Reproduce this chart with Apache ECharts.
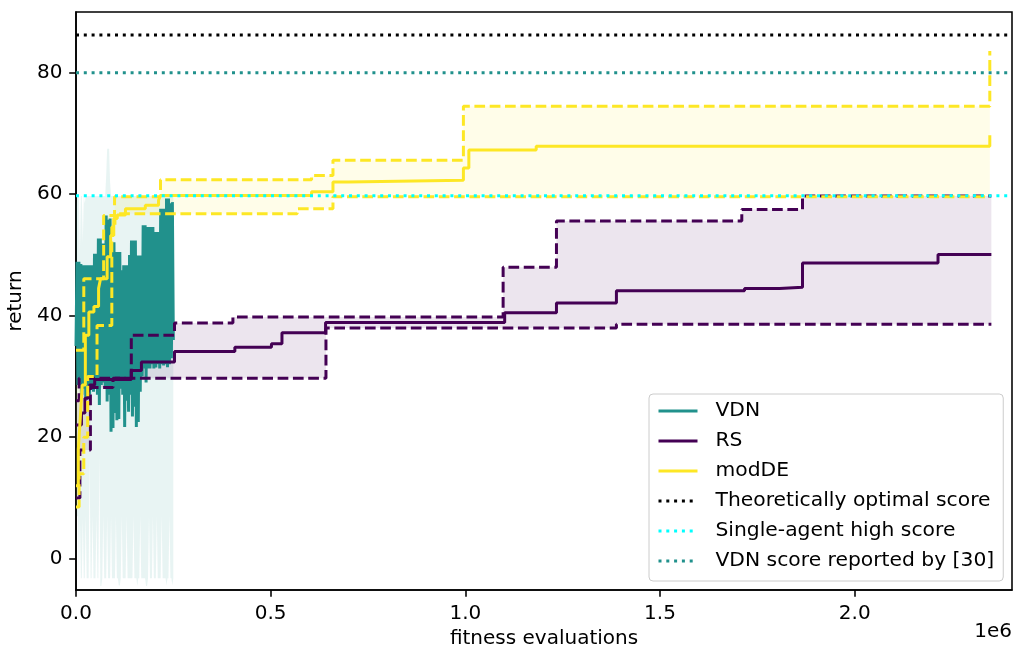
<!DOCTYPE html>
<html><head><meta charset="utf-8">
<script src="https://cdn.jsdelivr.net/npm/echarts@6/dist/echarts.min.js"></script>
<style>html,body{margin:0;padding:0;background:#fff}#c{width:1014px;height:649px}</style>
</head><body><div id="c"></div>
<script>
// ---------------- data ----------------
const xTicks = [0, 500000, 1000000, 1500000, 2000000];
const yTicks = [0, 20, 40, 60, 80];

// VDN: sampled every 2500 evaluations from 0 to 250000
const vdnStep = 2500;
const vdnMean = [
  35, 48.9, 28.6, 48.9, 29, 48.5, 27, 48.3, 28, 48.3,
  26.5, 48.3, 28, 48.3, 27, 48.3, 28.5, 48.3, 27.5, 50.2,
  28, 50.2, 27, 52.7, 25.3, 52.7, 28.6, 51.9, 29, 51.9,
  28, 56.5, 25.9, 55.8, 27, 56, 20.9, 52.1, 21.5, 52.1,
  24, 50.5, 22.8, 50.5, 23, 50.5, 28, 47.5, 27, 48.3,
  21.7, 48.3, 26, 48.3, 24.2, 50, 27, 52.4, 23.4, 52.4,
  25, 52.4, 21.7, 49.9, 22.5, 49.9, 27.5, 49.9, 30, 54.9,
  31.3, 54.9, 29, 54.6, 31.3, 54.6, 31.3, 54.6, 32, 54.6,
  31.3, 53.8, 31.5, 53.8, 32, 53.8, 31.3, 57.6, 32, 57.6,
  31.8, 57.6, 32, 59.3, 31.5, 59.3, 32, 58.5, 33, 58.7,
  36
];
const vdnUpper = [
  58, 59.5, 59.7, 59.7, 50, 59.7, 59.7, 52, 59.7, 58.5,
  59.7, 59.7, 59.7, 59.7, 59.7, 59.7, 59.7, 59.7, 59.7, 59.7,
  59.7, 59.7, 59.7, 59.7, 59.7, 59.7, 59.7, 59.7, 59.7, 59.7,
  59.7, 63, 67.5, 67.5, 67.5, 62, 59.7, 59.7, 59.7, 59.7,
  59.7, 59.7, 59.7, 59.7, 59.7, 59.7, 59.7, 59.7, 59.7, 59.7,
  59.7, 59.7, 59.7, 59.7, 59.7, 59.7, 59.7, 59.7, 59.7, 59.7,
  59.7, 59.7, 59.7, 59.7, 59.7, 59.7, 59.7, 59.7, 59.7, 59.7,
  59.7, 59.7, 59.7, 59.7, 59.7, 59.7, 59.7, 59.7, 59.7, 59.7,
  59.7, 59.7, 59.7, 59.7, 59.7, 59.7, 59.7, 59.7, 59.7, 59.7,
  59.7, 59.7, 59.7, 59.7, 59.7, 59.7, 59.7, 59.7, 59.7, 59.7,
  59.7
];
const vdnLower = [
  10, 7, 7, -3.2, 7, -3.2, -3.2, 6.5, -3.2, -3.2,
  7, -3.2, -3.2, -3.2, 16.8, -3.2, -3.2, 7, -3.2, -3.2,
  -3.2, 7, -3.2, -3.2, 16.8, -4.5, -4.5, -3.2, 7, -3.2,
  -3.2, -3.2, 7, -3.2, -3.2, -3.2, 7, -3.2, -3.2, -3.2,
  -3.2, 7, -3.2, -3.2, -4.4, -4.4, -3.2, 7, -3.2, -3.2,
  -3.2, -3.2, 7, -3.2, -3.2, -3.2, -3.2, -3.2, -3.2, 7,
  -3.2, -3.2, -3.2, -4.5, -3.2, -3.2, 7, -3.2, -3.2, -3.2,
  -3.2, -3.2, -4.5, -4.5, -3.2, 7, -3.2, -3.2, -3.2, 7,
  -3.2, -3.2, -3.2, 7, -3.2, -3.2, -3.2, -3.2, 7, -3.2,
  -3.2, -3.2, -3.2, -4.4, -3.2, -3.2, 7, -3.2, -3.2, -4.4,
  -3.2
];

// RS (step curves: x in evaluations)
const rsMeanX = [0, 14000, 23000, 31000, 35000, 48000, 142000, 168000, 253000, 408000, 502000, 529000, 641000, 1101000, 1234000, 1388000, 1717000, 1807000, 1866000, 2214000, 2351000];
const rsMeanY = [22.0, 24.0, 26.4, 27.2, 28.6, 29.5, 31.0, 32.4, 34.1, 34.8, 35.4, 37.2, 38.9, 40.5, 42.1, 44.1, 44.5, 44.7, 48.7, 50.1, 50.1];
const rsMaxX = [0, 8000, 142000, 253000, 403000, 1097000, 1234000, 1710000, 1866000, 2351000];
const rsMaxY = [26.0, 29.7, 36.8, 38.8, 39.8, 48.0, 55.6, 57.5, 59.7, 59.7];
const rsMinX = [0, 10000, 37000, 95000, 642000, 1388000, 2351000];
const rsMinY = [10.0, 17.9, 28.2, 29.7, 38.0, 38.6, 38.6];

// modDE (step curves)
const deMeanX = [0, 6000, 11000, 16000, 24000, 33000, 46000, 58000, 63000, 80000, 89000, 97000, 106000, 127000, 178000, 212000, 217000, 605000, 660000, 699000, 995000, 1009000, 1182000, 2347000];
const deMeanY = [12, 18, 23.2, 28.6, 36.8, 40.6, 41.5, 44.5, 46.1, 49.7, 53.2, 56.0, 56.6, 57.6, 58.2, 59.0, 59.8, 60.4, 62.0, 62.3, 64.3, 67.3, 67.9, 69.7];
const deMaxX = [0, 20000, 71000, 99000, 217000, 605000, 660000, 995000, 2347000];
const deMaxY = [34.3, 46.1, 56.5, 59.6, 62.4, 63.1, 65.6, 74.5, 83.6];
const deMinX = [0, 8000, 20000, 30000, 54000, 92000, 100000, 568000, 660000, 2347000];
const deMinY = [8.5, 14, 20, 30, 38.4, 54.6, 56.8, 57.6, 59.6, 59.6];

// reference scores
const refNames = ['Theoretically optimal score', 'Single-agent high score', 'VDN score reported by [30]'];
const refValues = [86.2, 59.75, 80.0];

// ---------------- styling ----------------
const X_MAX = 2404000, Y_MIN = -5.15, Y_MAX = 90;
const C_VDN = '#21918c', C_RS = '#440154', C_DE = '#fde725';
const refColors = ['#000000', '#00ffff', '#21918c'];
const LW = 3.0, DOT = [3.0, 4.8], DASH = [10.7, 4.6];
const FONT = 'DejaVu Sans', FS = 20;

function pairs(xs, ys) { return xs.map((x, i) => [x, ys[i]]); }
function stepPts(xs, ys) {
  const out = [];
  for (let i = 0; i < xs.length; i++) {
    out.push([xs[i], ys[i]]);
    if (i < xs.length - 1) out.push([xs[i + 1], ys[i]]);
  }
  return out;
}
function bandSeries(name, upperPts, lowerPts, fill) {
  const poly = upperPts.concat(lowerPts.slice().reverse());
  return {
    name: name, type: 'custom', silent: true, clip: true,
    data: [[0, 0]], encode: { x: 0, y: 1 },
    renderItem: function (params, api) {
      return { type: 'polygon', shape: { points: poly.map(p => api.coord(p)) }, style: { fill: fill } };
    }
  };
}
const vdnX = vdnMean.map((_, i) => i * vdnStep);
const lineBase = { type: 'line', symbol: 'none', showSymbol: false, animation: false, silent: true };

const series = [
  bandSeries('VDN band', pairs(vdnX, vdnUpper), pairs(vdnX, vdnLower), 'rgba(33,145,140,0.1)'),
  Object.assign({}, lineBase, { name: 'VDN', data: pairs(vdnX, vdnMean), lineStyle: { color: C_VDN, width: LW }, itemStyle: { color: C_VDN } }),
  bandSeries('RS band', stepPts(rsMaxX, rsMaxY), stepPts(rsMinX, rsMinY), 'rgba(68,1,84,0.1)'),
  Object.assign({}, lineBase, { name: 'RS max', step: 'end', data: pairs(rsMaxX, rsMaxY), lineStyle: { color: C_RS, width: LW, type: DASH } }),
  Object.assign({}, lineBase, { name: 'RS min', step: 'end', data: pairs(rsMinX, rsMinY), lineStyle: { color: C_RS, width: LW, type: DASH } }),
  Object.assign({}, lineBase, { name: 'RS', step: 'end', data: pairs(rsMeanX, rsMeanY), lineStyle: { color: C_RS, width: LW }, itemStyle: { color: C_RS } }),
  bandSeries('modDE band', stepPts(deMaxX, deMaxY), stepPts(deMinX, deMinY), 'rgba(253,231,37,0.1)'),
  Object.assign({}, lineBase, { name: 'modDE max', step: 'end', data: pairs(deMaxX, deMaxY), lineStyle: { color: C_DE, width: LW, type: DASH } }),
  Object.assign({}, lineBase, { name: 'modDE min', step: 'end', data: pairs(deMinX, deMinY), lineStyle: { color: C_DE, width: LW, type: DASH } }),
  Object.assign({}, lineBase, { name: 'modDE', step: 'end', data: pairs(deMeanX, deMeanY), lineStyle: { color: C_DE, width: LW }, itemStyle: { color: C_DE } })
];
refNames.forEach((n, k) => {
  series.push(Object.assign({}, lineBase, {
    name: n, data: [[0, refValues[k]], [X_MAX, refValues[k]]],
    lineStyle: { color: refColors[k], width: LW, type: DOT }, itemStyle: { color: refColors[k] }
  }));
});

const axisCommon = {
  axisLine: { show: true, onZero: false, lineStyle: { color: '#000', width: 1.56 } },
  axisTick: { show: true, inside: false, length: 6.8, lineStyle: { color: '#000', width: 1.56 } },
  splitLine: { show: false },
  nameTextStyle: { fontFamily: FONT, fontSize: FS, color: '#000' }
};

const chart = echarts.init(document.getElementById('c'), null, { renderer: 'canvas' });
chart.setOption({
  animation: false,
  backgroundColor: '#fff',
  grid: { left: 76, right: 2, top: 12, bottom: 59, show: true, borderColor: '#000', borderWidth: 1.56, containLabel: false, outerBoundsMode: 'none' },
  xAxis: Object.assign({}, axisCommon, {
    type: 'value', min: 0, max: X_MAX,
    name: 'fitness evaluations', nameLocation: 'middle', nameGap: 35,
    axisTick: Object.assign({}, axisCommon.axisTick, { customValues: xTicks }),
    axisLabel: { customValues: xTicks, formatter: v => (v / 1e6).toFixed(1), fontFamily: FONT, fontSize: FS, color: '#000', margin: 13.6 }
  }),
  yAxis: Object.assign({}, axisCommon, {
    type: 'value', min: Y_MIN, max: Y_MAX,
    name: 'return', nameLocation: 'middle', nameGap: 46,
    axisTick: Object.assign({}, axisCommon.axisTick, { customValues: yTicks }),
    axisLabel: { customValues: yTicks, formatter: v => String(v), fontFamily: FONT, fontSize: FS, color: '#000', margin: 13.6 }
  }),
  legend: {
    data: ['VDN', 'RS', 'modDE'].concat(refNames),
    orient: 'vertical', left: 649, top: 394,
    itemWidth: 39, itemHeight: 20, itemGap: 10,
    padding: [7, 9, 10, 8],
    backgroundColor: 'rgba(255,255,255,0.8)', borderColor: '#cccccc', borderWidth: 1, borderRadius: 4,
    itemStyle: { opacity: 0 },
    lineStyle: { width: 3 },
    selectedMode: false,
    textStyle: { fontFamily: FONT, fontSize: 20.3, color: '#000', lineHeight: 20, padding: [0, 0, 0, 13] }
  },
  graphic: [{ type: 'text', right: 2, top: 622, style: { text: '1e6', font: FS + 'px ' + FONT, fill: '#000' } }],
  series: series
});
</script></body></html>
